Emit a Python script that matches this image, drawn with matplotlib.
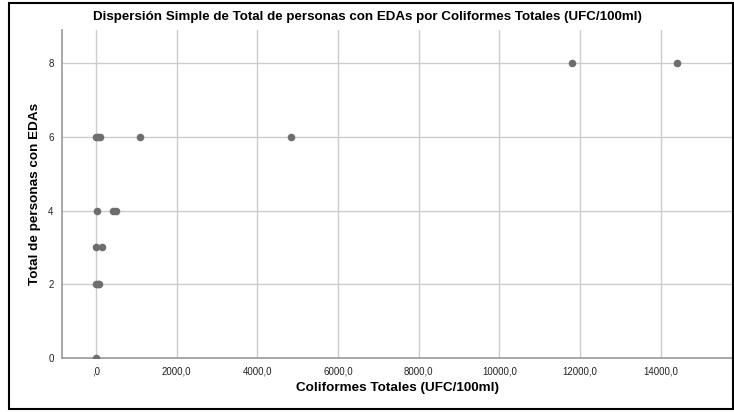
import numpy as np
import matplotlib
matplotlib.use("Agg")
import matplotlib.pyplot as plt
from matplotlib.patches import Rectangle
from matplotlib.ticker import FuncFormatter

# datos
coliformes = [0, 0, 40, 80, 0, 160, 30, 420, 500, 0, 50, 100, 1100, 4830, 11800, 14400]
personas = [0, 2, 2, 2, 3, 3, 4, 4, 4, 6, 6, 6, 6, 6, 8, 8]

x_ticks = [0, 2000, 4000, 6000, 8000, 10000, 12000, 14000]
y_ticks = [0, 2, 4, 6, 8]

plt.rcParams['font.family'] = ['Liberation Sans', 'DejaVu Sans']

fig = plt.figure(figsize=(7.34, 4.12), dpi=100)
ax = fig.add_axes([62/734, 1-358/412, (733-62)/734, (358-30)/412])

ax.scatter(coliformes, personas, s=30, color="#6e6e6e", zorder=3, linewidths=0)

ax.set_xlim(-843, 15790)
ax.set_ylim(0, 8.9)
ax.set_xticks(x_ticks)
ax.set_yticks(y_ticks)


def fmt_x(v, pos):
    if v == 0:
        return ",0"
    return ("%.1f" % v).replace(".", ",")


ax.xaxis.set_major_formatter(FuncFormatter(fmt_x))
ax.tick_params(axis="both", length=0, labelsize=7, pad=6, colors="#222222")
ax.grid(True, color="#cccccc", linewidth=1)
ax.set_axisbelow(True)

for lado in ["top", "right"]:
    ax.spines[lado].set_visible(False)
for lado in ["left", "bottom"]:
    ax.spines[lado].set_color("#999999")
    ax.spines[lado].set_linewidth(1.2)

ax.set_xlabel("Coliformes Totales (UFC/100ml)", fontsize=9.7, fontweight="bold", labelpad=4)
ax.set_ylabel("Total de personas con EDAs", fontsize=9.7, fontweight="bold")
ax.yaxis.set_label_coords(-21/671, 0.5)
fig.text(0.5, 1-17/412, "Dispersión Simple de Total de personas con EDAs por Coliformes Totales (UFC/100ml)",
         ha="center", va="center", fontsize=9.6, fontweight="bold")

# marco negro alrededor de la figura
fig.patches.append(Rectangle((9/734, 1-409/412), (733-9)/734, (409-3)/412,
                             transform=fig.transFigure, fill=False,
                             edgecolor="black", linewidth=1.5))

fig.savefig("out.png", dpi=100)
